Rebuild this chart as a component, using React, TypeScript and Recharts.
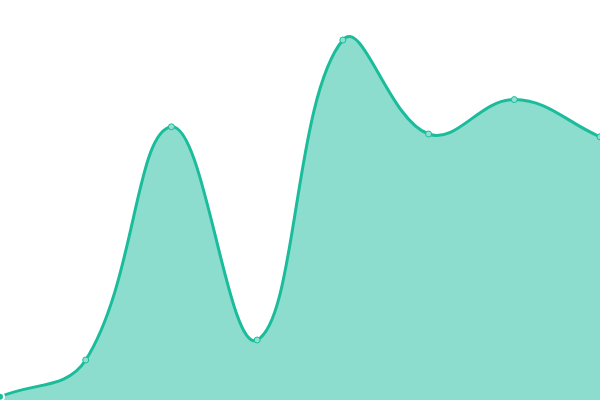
import React from 'react';
import { AreaChart, Area, XAxis, YAxis } from 'recharts';

const labels = ['1', '2', '3', '4', '5', '6', '7', '8'];
const values = [0.8, 10, 68.3, 15, 90, 66.5, 75.1, 65.8];

const data = labels.map((label, i) => ({ label, value: values[i] }));

// spline with tension like the one the original was drawn with
const TENSION = 0.4;

function tensionCurve(context: any) {
  let line = NaN;
  let pts: number[][] = [];
  return {
    areaStart() { line = 0; },
    areaEnd() { line = NaN; },
    lineStart() { pts = []; },
    point(x: number, y: number) { pts.push([+x, +y]); },
    lineEnd() {
      const n = pts.length;
      if (n) {
        if (line) context.lineTo(pts[0][0], pts[0][1]);
        else context.moveTo(pts[0][0], pts[0][1]);
        const cps = pts.map((cur, i) => {
          const prev = pts[Math.max(i - 1, 0)];
          const next = pts[Math.min(i + 1, n - 1)];
          const d01 = Math.hypot(cur[0] - prev[0], cur[1] - prev[1]);
          const d12 = Math.hypot(next[0] - cur[0], next[1] - cur[1]);
          const sum = d01 + d12 || 1;
          const fa = TENSION * (d01 / sum);
          const fb = TENSION * (d12 / sum);
          return {
            prev: [cur[0] - fa * (next[0] - prev[0]), cur[1] - fa * (next[1] - prev[1])],
            next: [cur[0] + fb * (next[0] - prev[0]), cur[1] + fb * (next[1] - prev[1])],
          };
        });
        for (let i = 1; i < n; i++) {
          const a = cps[i - 1].next;
          const b = cps[i].prev;
          context.bezierCurveTo(a[0], a[1], b[0], b[1], pts[i][0], pts[i][1]);
        }
      }
      if (line || (line !== 0 && n === 1)) context.closePath();
      line = 1 - line;
    },
  };
}

const App: React.FC = () => {
  return (
    <div style={{ position: 'absolute', left: 0, top: 0 }}>
      <AreaChart width={600} height={400} data={data} margin={{ top: 0, right: 0, left: 0, bottom: 0 }}>
        <XAxis dataKey="label" hide padding={{ left: 0, right: 0 }} />
        <YAxis hide domain={[0, 100]} />
        <Area
          type={tensionCurve as any}
          dataKey="value"
          stroke="#1abc9c"
          strokeWidth={3}
          fill="#1abc9c"
          fillOpacity={0.5}
          dot={{ r: 3, fill: '#8ee0cf', stroke: '#1abc9c', strokeWidth: 1, fillOpacity: 1 }}
          isAnimationActive={false}
        />
      </AreaChart>
    </div>
  );
};

export default App;
